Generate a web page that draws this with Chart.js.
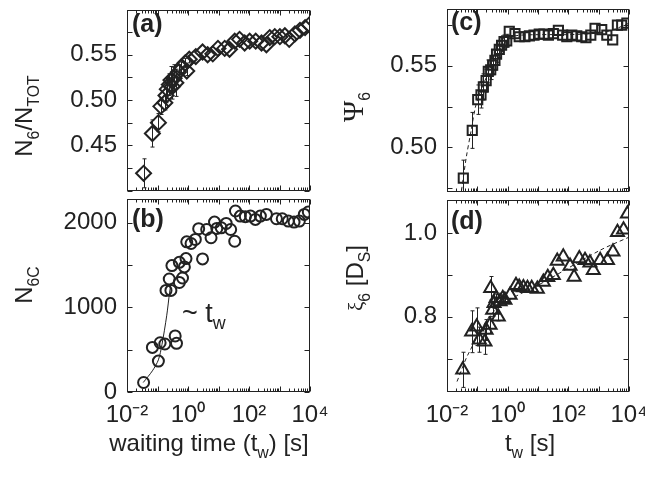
<!DOCTYPE html>
<html><head><meta charset="utf-8">
<script src="https://cdn.jsdelivr.net/npm/chart.js@4.4.1/dist/chart.umd.min.js"></script>
<style>
html,body{margin:0;padding:0;background:#fff;}
#wrap{position:relative;width:645px;height:483px;overflow:hidden;background:#fff;font-family:'Liberation Sans',Arial,sans-serif;color:#222;}
.box{position:absolute;}
.t{position:absolute;white-space:nowrap;font-size:24px;line-height:1;}
.rot{transform:translate(-50%,-50%) rotate(-90deg);}
.ctr{transform:translate(-50%,-50%);}
.pl{position:absolute;font-weight:bold;font-size:25px;line-height:1;}
sub{font-size:0.66em;vertical-align:-0.4em;}
.serif{font-family:'Liberation Serif','Times New Roman',serif;}
</style></head>
<body><div id="wrap">
<div class="box" style="left:0;top:0;width:320px;height:200px"><canvas id="ca"></canvas></div>
<div class="box" style="left:0;top:190px;width:345px;height:293px"><canvas id="cb"></canvas></div>
<div class="box" style="left:320px;top:0;width:325px;height:200px"><canvas id="cc"></canvas></div>
<div class="box" style="left:320px;top:190px;width:325px;height:293px"><canvas id="cd"></canvas></div>

<div class="t rot" style="left:27px;top:116px">N<sub>6</sub>/N<sub>TOT</sub></div>
<div class="t rot" style="left:27px;top:285px">N<sub>6C</sub></div>
<div class="t rot" style="left:356px;top:107px"><span class="serif" style="font-size:29px">Ψ</span><sub>6</sub></div>
<div class="t rot" style="left:358px;top:278px"><span class="serif" style="font-size:21px">ξ</span><sub>6</sub> [D<sub>S</sub>]</div>
<div class="t ctr" style="left:209px;top:446px">waiting time (t<sub>w</sub>) [s]</div>
<div class="t ctr" style="left:530px;top:446px">t<sub>w</sub> [s]</div>
<div class="t" style="left:182px;top:300px;font-size:27px">~ t<sub>w</sub></div>

<div class="pl" style="left:132px;top:11px">(a)</div>
<div class="pl" style="left:132px;top:206px">(b)</div>
<div class="pl" style="left:451px;top:9px">(c)</div>
<div class="pl" style="left:451px;top:208px">(d)</div>
</div>
<script>
// ---------- data ----------
const xTickLabels = [0.01, 1, 100, 10000];

const aX = [0.035,0.068,0.107,0.129,0.174,0.19,0.21,0.243,0.275,0.31,0.35,0.40,0.49,0.59,0.91,0.81,1.1,1.8,3.0,4.4,6.5,9.6,16,23,34,49,72,105,166,257,372,479,700,1030,1500,2080,3200,4700,6900,9500];
const aY = [0.419,0.463,0.475,0.493,0.497,0.505,0.512,0.517,0.522,0.515,0.524,0.519,0.531,0.536,0.532,0.541,0.545,0.548,0.553,0.550,0.551,0.557,0.557,0.556,0.565,0.567,0.563,0.565,0.565,0.563,0.561,0.569,0.570,0.570,0.571,0.567,0.573,0.577,0.580,0.583];
const aErr = [0.016,0.015,0.010,0.009,0.008,0.008,0.010,0.012,0.015,0.014,0.015,0.015,0.008,0.006,0.005,0.005,0.004,0,0,0,0,0,0,0,0,0,0,0,0,0,0,0,0,0,0,0,0,0,0,0];
const aTicks = [0.40,0.425,0.45,0.475,0.50,0.525,0.55,0.575,0.60];
const aLabels = [0.45,0.50,0.55];

const bX = [0.035,0.068,0.107,0.122,0.174,0.19,0.243,0.275,0.297,0.38,0.42,0.52,0.52,0.66,0.76,0.86,0.91,1.26,1.74,2.24,3.0,4.1,5.7,7.4,8.8,12.3,17.9,25,34,36,52,76,112,162,236,372,795,1230,1950,3000,4470,6500,8800];
const bY = [112,527,365,582,567,1200,1335,1200,1493,662,575,1294,1532,1347,1478,1576,1774,1754,1802,1929,1572,1920,1822,2007,1932,1940,1991,1920,1781,2138,2078,2071,2078,2039,2078,2098,2047,2047,2019,2007,2019,2098,2126];
const bFitX = [0.034,0.068,0.107,0.14,0.2,0.25,0.28];
const bFitY = [112,250,380,560,900,1180,1290];
const bTicks = [0,500,1000,1500,2000];
const bLabels = [0,1000,2000];

const cX = [0.0345,0.068,0.103,0.132,0.158,0.195,0.23,0.276,0.32,0.38,0.43,0.53,0.63,0.76,0.93,1.13,1.74,2.4,3.7,5.2,7.4,11,15.8,22,32,47,65,89,130,190,275,380,550,760,1260,1860,2900,4150,5750,8500];
const cY = [0.4812,0.5104,0.5292,0.5321,0.537,0.5408,0.5465,0.5475,0.5504,0.5533,0.5571,0.56,0.5625,0.5648,0.5652,0.571,0.5696,0.5677,0.5677,0.5683,0.5687,0.5693,0.5693,0.5687,0.5696,0.5716,0.5687,0.5677,0.5687,0.5683,0.5677,0.5671,0.5687,0.5729,0.5721,0.5687,0.5658,0.5748,0.5748,0.576];
const cErr = [0.011,0.011,0.009,0.008,0.008,0.007,0.007,0.006,0.006,0.006,0.005,0.005,0.004,0.004,0.004,0,0,0,0,0,0,0,0,0,0,0,0,0,0,0,0,0,0,0,0,0,0,0,0,0];
const cFitX = [0.03,0.043,0.062,0.086,0.125,0.2,0.4,0.8,1.5,10,100,1000,3000,10000];
const cFitY = [0.4735,0.4937,0.510,0.5245,0.534,0.543,0.556,0.564,0.568,0.569,0.569,0.570,0.572,0.576];
const cTicks = [0.475,0.50,0.525,0.55,0.575];
const cLabels = [0.50,0.55];

const dX = [0.033,0.065,0.095,0.116,0.178,0.194,0.263,0.276,0.32,0.355,0.415,0.49,0.56,0.69,0.81,1.2,1.88,2.4,3.3,4.5,6.2,9.5,15,21,32,43,68,114,155,230,355,515,665,1120,1950,2960,4170,6600,8900];
const dY = [0.673,0.764,0.776,0.745,0.740,0.768,0.780,0.868,0.816,0.832,0.844,0.800,0.836,0.844,0.840,0.852,0.875,0.871,0.870,0.868,0.868,0.866,0.883,0.894,0.899,0.933,0.943,0.921,0.895,0.939,0.935,0.929,0.911,0.935,0.935,0.955,1.002,1.008,1.046];
const dErr = [0.042,0.05,0.045,0.03,0.03,0.025,0.02,0.028,0.015,0.012,0.01,0.01,0.008,0.008,0.006,0,0,0,0,0,0,0,0,0,0,0,0,0,0,0,0,0,0,0,0,0,0,0,0];
const dFitX = [0.0214,0.052,0.39,20,1130,10000];
const dFitY = [0.645,0.713,0.816,0.887,0.959,0.99];
const dTicks = [0.7,0.8,0.9,1.0];
const dLabels = [0.8,1.0];

// ---------- helpers ----------
const INK = '#222';
const FONT = {family:"'Liberation Sans', Arial, sans-serif", size:24};
const SUP = {'-':'⁻','0':'⁰','1':'¹','2':'²','3':'³','4':'⁴'};
function powLabel(v){
  const e = Math.round(Math.log10(v));
  return '10' + String(e).split('').map(c=>SUP[c]).join('');
}
function pts(xs, ys){ return xs.map((x,i)=>({x:x, y:ys[i]})); }

function framePlugin(yTicks){
  return {
    id:'frame',
    afterDraw(chart){
      const ctx = chart.ctx, a = chart.chartArea, xs = chart.scales.x, ys = chart.scales.y;
      const L = Math.round(a.left)+0.5, R = Math.round(a.right)-0.5, T = Math.round(a.top)+0.5, B = Math.round(a.bottom)-0.5;
      ctx.save();
      ctx.strokeStyle = INK; ctx.lineWidth = 1;
      ctx.strokeRect(L, T, R-L, B-T);
      ctx.beginPath();
      for (let e=-2; e<=4; e++){
        for (let m=1; m<=9; m++){
          const v = m*Math.pow(10,e);
          if (v > 10000*1.0001) break;
          const px = Math.round(xs.getPixelForValue(v))+0.5;
          const len = m===1 ? 5 : 3;
          ctx.moveTo(px, B); ctx.lineTo(px, B-len);
          ctx.moveTo(px, T); ctx.lineTo(px, T+len);
        }
      }
      yTicks.forEach(v=>{
        const py = Math.round(ys.getPixelForValue(v))+0.5;
        ctx.moveTo(L, py); ctx.lineTo(L+5, py);
        ctx.moveTo(R, py); ctx.lineTo(R-5, py);
      });
      ctx.stroke();
      ctx.restore();
    }
  };
}
function errPlugin(xs_, ys_, es_){
  return {
    id:'errbars',
    beforeDatasetsDraw(chart){
      const ctx = chart.ctx, a = chart.chartArea, xs = chart.scales.x, ys = chart.scales.y;
      ctx.save();
      ctx.beginPath(); ctx.rect(a.left, a.top, a.right-a.left, a.bottom-a.top); ctx.clip();
      ctx.strokeStyle = INK; ctx.lineWidth = 1;
      ctx.beginPath();
      xs_.forEach((x,i)=>{
        const e = es_[i]; if (!e) return;
        const px = Math.round(xs.getPixelForValue(x))+0.5;
        const y1 = ys.getPixelForValue(ys_[i]-e), y2 = ys.getPixelForValue(ys_[i]+e);
        ctx.moveTo(px, y1); ctx.lineTo(px, y2);
        ctx.moveTo(px-2, y1); ctx.lineTo(px+2, y1);
        ctx.moveTo(px-2, y2); ctx.lineTo(px+2, y2);
      });
      ctx.stroke();
      ctx.restore();
    }
  };
}
function has(list, v){ return list.some(l=>Math.abs(l-v)<1e-9); }

function makeChart(id, o){
  return new Chart(document.getElementById(id), {
    type:'scatter',
    data:{datasets:o.datasets},
    options:{
      responsive:true, maintainAspectRatio:false, animation:false,
      layout:{padding:o.pad},
      plugins:{legend:{display:false}, tooltip:{enabled:false}},
      scales:{
        x:{type:'logarithmic', min:0.01, max:10000,
           grid:{display:false, drawTicks:false}, border:{display:false},
           afterBuildTicks:s=>{ s.ticks = xTickLabels.map(v=>({value:v})); },
           ticks:{display:o.showX, padding:9, color:INK, font:FONT, maxRotation:0, autoSkip:false,
                  callback:v=>powLabel(v)},
           afterFit:s=>{ s.height = o.xH; s.paddingLeft = 0; s.paddingRight = 0; s.paddingTop = 0; s.paddingBottom = 0; }},
        y:{min:o.yMin, max:o.yMax,
           grid:{display:false, drawTicks:false}, border:{display:false},
           afterBuildTicks:s=>{ s.ticks = o.yTicks.map(v=>({value:v})); },
           ticks:{padding:10, color:INK, font:FONT, autoSkip:false,
                  callback:v=> has(o.yLabels, v) ? o.fmt(v) : ''},
           afterFit:s=>{ s.width = 127; s.paddingTop = 0; s.paddingBottom = 0; s.paddingLeft = 0; s.paddingRight = 0; }}
      }
    },
    plugins:[errPlugin(o.ex||[], o.ey||[], o.ee||[]), framePlugin(o.yTicks)]
  });
}
function markers(xs, ys, style, r){
  return {data:pts(xs,ys), showLine:false, pointStyle:style, pointRadius:r, pointHoverRadius:r,
          borderColor:INK, backgroundColor:'rgba(0,0,0,0)', pointBorderWidth:2, borderWidth:2, order:1};
}
function fitLine(xs, ys, dash){
  return {data:pts(xs,ys), showLine:true, pointRadius:0, borderColor:INK, borderWidth:1,
          borderDash:dash, tension:0.3, fill:false, order:2};
}

makeChart('ca', {
  datasets:[markers(aX,aY,'rectRot',7.5)],
  pad:{left:0,right:10,top:5,bottom:1}, xH:0, showX:false,
  yMin:0.40, yMax:0.60, yTicks:aTicks, yLabels:aLabels, fmt:v=>v.toFixed(2),
  ex:aX, ey:aY, ee:aErr
});
makeChart('cb', {
  datasets:[markers(bX,bY,'circle',5.5), fitLine(bFitX,bFitY,[])],
  pad:{left:0,right:35,top:9,bottom:0}, xH:91, showX:true,
  yMin:0, yMax:2280, yTicks:bTicks, yLabels:bLabels, fmt:v=>String(Math.round(v))
});
makeChart('cc', {
  datasets:[markers(cX,cY,'rect',6.5), fitLine(cFitX,cFitY,[4,3])],
  pad:{left:0,right:16,top:5,bottom:1}, xH:0, showX:false,
  yMin:0.473, yMax:0.585, yTicks:cTicks, yLabels:cLabels, fmt:v=>v.toFixed(2),
  ex:cX, ey:cY, ee:cErr
});
makeChart('cd', {
  datasets:[markers(dX,dY,'triangle',7.5), fitLine(dFitX,dFitY,[4,3])],
  pad:{left:0,right:16,top:9,bottom:0}, xH:91, showX:true,
  yMin:0.62, yMax:1.08, yTicks:dTicks, yLabels:dLabels, fmt:v=>v.toFixed(1),
  ex:dX, ey:dY, ee:dErr
});
</script>
</body></html>
